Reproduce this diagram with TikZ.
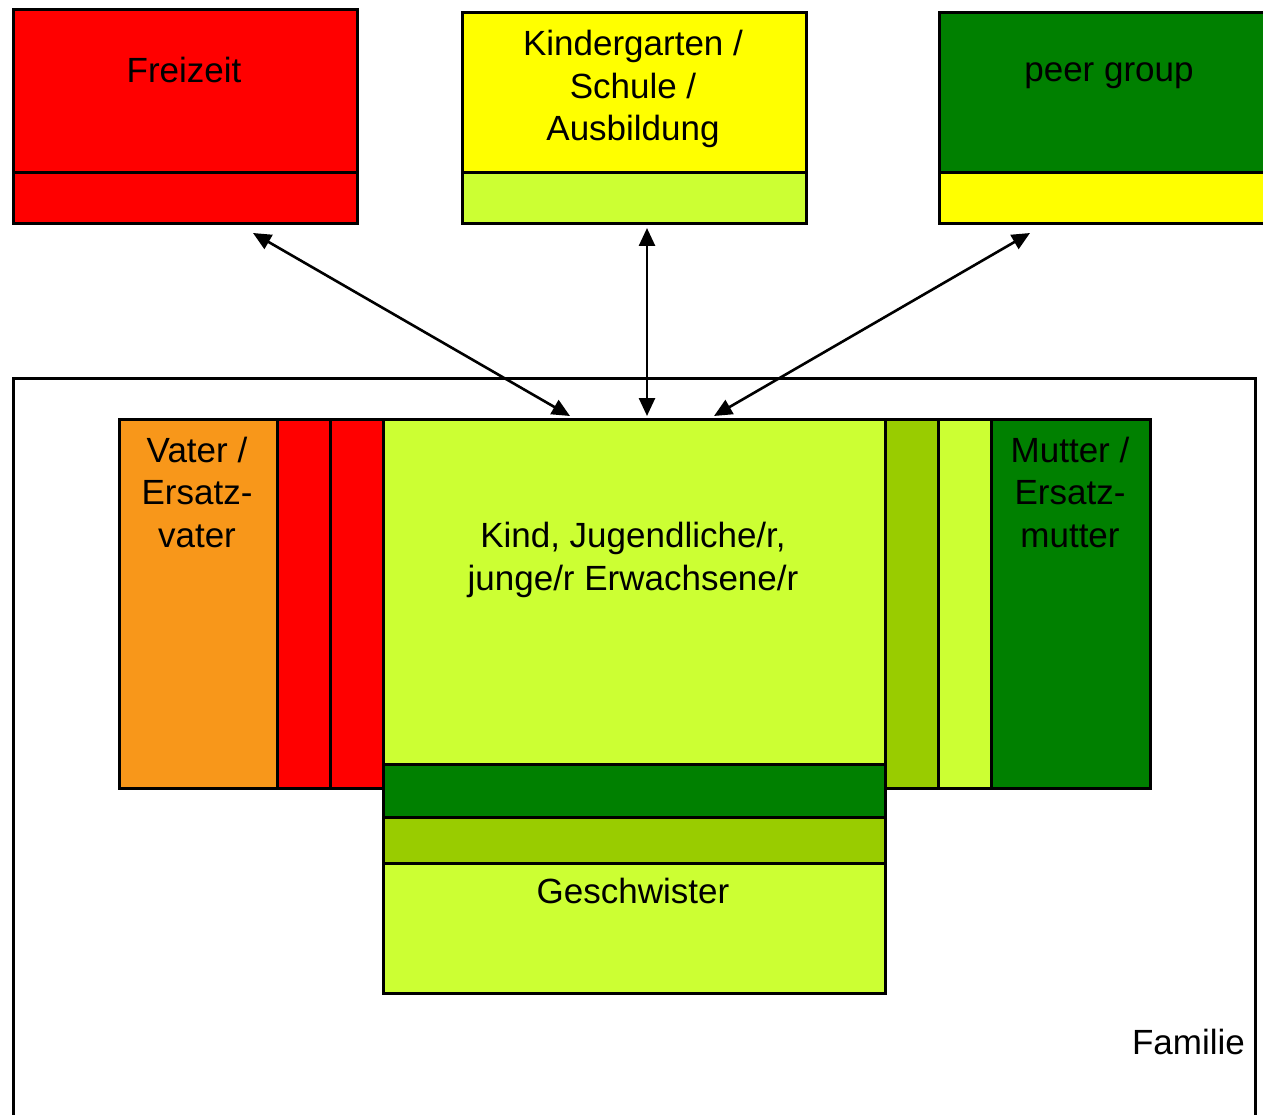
\documentclass[tikz,border=0pt]{standalone}
\usepackage{fontspec}
\setmainfont{Liberation Sans}
\usetikzlibrary{arrows.meta}
\definecolor{cred}{HTML}{FF0000}
\definecolor{cyellow}{HTML}{FFFF00}
\definecolor{clight}{HTML}{CCFF33}
\definecolor{cgreen}{HTML}{008000}
\definecolor{colive}{HTML}{99CC00}
\definecolor{corange}{HTML}{F8971A}
\begin{document}
\begin{tikzpicture}[x=1pt,y=-1pt,
  box/.style={draw=black, line width=3pt, rectangle, inner sep=0pt, anchor=north west},
  lbl/.style={font=\fontsize{35}{42.5}\selectfont, align=center, inner sep=0pt},
  arr/.style={line width=2.6pt, {Triangle[length=18pt,width=16pt]}-{Triangle[length=18pt,width=16pt]}}]
\useasboundingbox (0,0) rectangle (1263,1115);
\begin{scope}
\clip (0,0) rectangle (1263,1115);
% top boxes
\node[box, fill=cred, minimum width=344pt, minimum height=163pt] (frtop) at (12,8) {};
\node[box, fill=cred, minimum width=344pt, minimum height=51pt] (frbot) at (12,171) {};
\node[box, fill=cyellow, minimum width=344pt, minimum height=160pt] (kgtop) at (461,11) {};
\node[box, fill=clight, minimum width=344pt, minimum height=51pt] (kgbot) at (461,171) {};
\node[box, fill=cgreen, minimum width=340pt, minimum height=160pt] (pgtop) at (938,11) {};
\node[box, fill=cyellow, minimum width=340pt, minimum height=51pt] (pgbot) at (938,171) {};
% family frame
\node[box, minimum width=1242pt, minimum height=760pt] (fam) at (12,377) {};
% left side
\node[box, fill=corange, minimum width=158pt, minimum height=369pt] (vater) at (118,418) {};
\node[box, fill=cred, minimum width=53pt, minimum height=369pt] (r1) at (276,418) {};
\node[box, fill=cred, minimum width=53pt, minimum height=369pt] (r2) at (329,418) {};
% right side
\node[box, fill=colive, minimum width=53pt, minimum height=369pt] (g1) at (884,418) {};
\node[box, fill=clight, minimum width=53pt, minimum height=369pt] (g2) at (937,418) {};
\node[box, fill=cgreen, minimum width=159pt, minimum height=369pt] (mutter) at (990,418) {};
% center
\node[box, fill=clight, minimum width=502pt, minimum height=345pt] (kind) at (382,418) {};
\node[box, fill=cgreen, minimum width=502pt, minimum height=53pt] (s1) at (382,763) {};
\node[box, fill=colive, minimum width=502pt, minimum height=46pt] (s2) at (382,816) {};
\node[box, fill=clight, minimum width=502pt, minimum height=130pt] (gesch) at (382,862) {};
\end{scope}
% labels
\node[lbl] (tfr) at (184,70) {Freizeit};
\node[lbl] (tkg) at (633,89) {Kindergarten /\\Schule /\\Ausbildung};
\node[lbl] (tpg) at (1109,76) {peer group};
\node[lbl] (tva) at (197,492) {Vater /\\Ersatz-\\vater};
\node[lbl] (tmu) at (1070,492) {Mutter /\\Ersatz-\\mutter};
\node[lbl] (tki) at (633,560) {Kind, Jugendliche/r,\\junge/r Erwachsene/r};
\node[lbl] (tge) at (633,891) {Geschwister};
\node[lbl, anchor=east] (tfa) at (1245,1042) {Familie};
% arrow ends
\coordinate (a1) at (253,233);
\coordinate (b1) at (570,416);
\coordinate (a2) at (647,228);
\coordinate (b2) at (647,416);
\coordinate (a3) at (1030,233);
\coordinate (b3) at (714,416);
\draw[arr] (a1) -- (b1);
\draw[arr] (a2) -- (b2);
\draw[arr] (a3) -- (b3);
\end{tikzpicture}
\end{document}
